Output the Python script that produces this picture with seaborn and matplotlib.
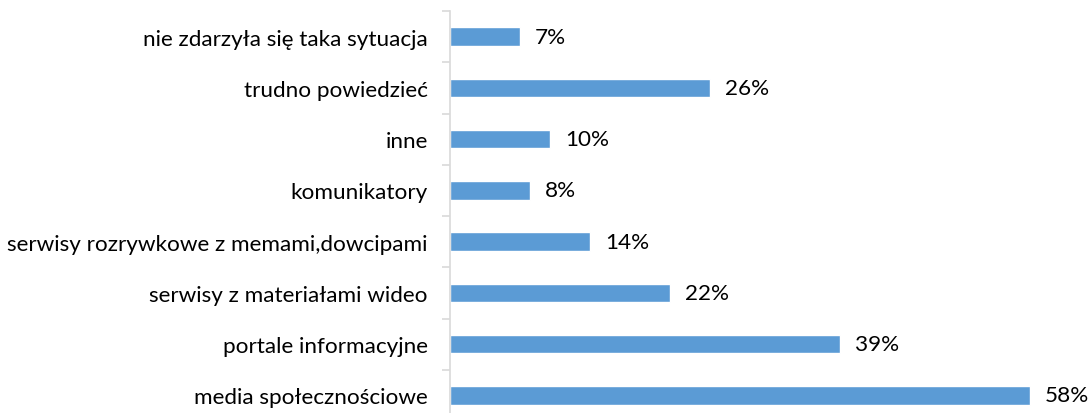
import matplotlib
matplotlib.use("Agg")
import matplotlib.pyplot as plt
import seaborn as sns
import pandas as pd
from matplotlib.ticker import FixedLocator

categories = [
    "nie zdarzyła się taka sytuacja",
    "trudno powiedzieć",
    "inne",
    "komunikatory",
    "serwisy rozrywkowe z memami,dowcipami",
    "serwisy z materiałami wideo",
    "portale informacyjne",
    "media społecznościowe",
]
values = [7, 26, 10, 8, 14, 22, 39, 58]

sns.set_theme(style="white")
plt.rcParams['font.family'] = ['Lato', 'DejaVu Sans']

df = pd.DataFrame({"cat": categories, "val": values})

fig = plt.figure(figsize=(10.92, 4.14), dpi=100)
ax = fig.add_axes([450/1092, 1 - 422/414, 1 - 450/1092, 410/414])
sns.barplot(data=df, x="val", y="cat", orient="h", color="#5B9BD5",
            saturation=1, width=0.36, ax=ax)
ax.set_xlim(0, 64.2)
ax.set_ylim(7.5, -0.5)
ax.set_xlabel("")
ax.set_ylabel("")
ax.set_xticks([])
for s in ["top", "right", "bottom"]:
    ax.spines[s].set_visible(False)
ax.spines["left"].set_color("#D9D9D9")
ax.spines["left"].set_linewidth(1.2)
ax.tick_params(axis="y", which="major", length=0, pad=16, labelsize=16.2, labelcolor="black")
ax.yaxis.set_minor_locator(FixedLocator([i - 0.5 for i in range(9)]))
ax.tick_params(axis="y", which="minor", length=6, color="#D9D9D9", width=1.2, left=True)
for i, v in enumerate(values):
    ax.text(v + 1.5, i, f"{v}%", va="center", ha="left", fontsize=16.2, color="black")

fig.savefig("out.png", dpi=100)
